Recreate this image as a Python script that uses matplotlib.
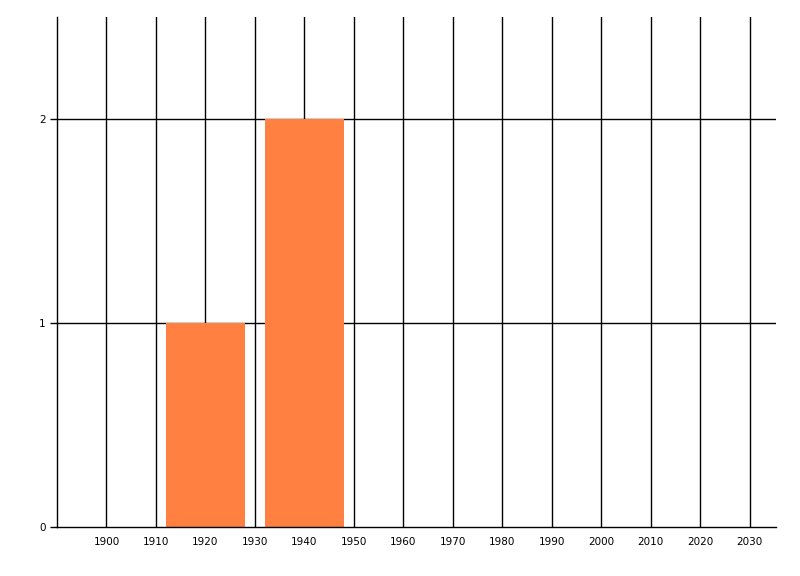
import matplotlib.pyplot as plt

# data
years = [1920, 1940]
counts = [1, 2]
bar_width = 16
x_ticks = list(range(1900, 2031, 10))
y_ticks = [0, 1, 2]

fig = plt.figure(figsize=(8, 5.76), dpi=100)
ax = fig.add_axes([57 / 800, 1 - 527 / 576, (776 - 57) / 800, (527 - 17) / 576])

# bars sit on top of the grid lines
ax.bar(years, counts, width=bar_width, color='#FF8040', zorder=5)

ax.set_xlim(1890, 2035.3)
ax.set_ylim(0, 2.5)

ax.set_xticks(x_ticks)
ax.set_xticklabels([str(t) for t in x_ticks])
ax.set_yticks(y_ticks)

for t in x_ticks:
    ax.axvline(t, color='black', lw=1.0, zorder=2)
for t in y_ticks[1:]:
    ax.axhline(t, color='black', lw=1.0, zorder=2)

for side in ['top', 'right']:
    ax.spines[side].set_visible(False)
for side in ['left', 'bottom']:
    ax.spines[side].set_linewidth(1.0)
    ax.spines[side].set_zorder(6)

ax.tick_params(axis='x', length=0, pad=7, labelsize=7.5)
ax.tick_params(axis='y', length=5, width=1.0, pad=3, labelsize=7.5)

fig.savefig('out.png', dpi=100)
